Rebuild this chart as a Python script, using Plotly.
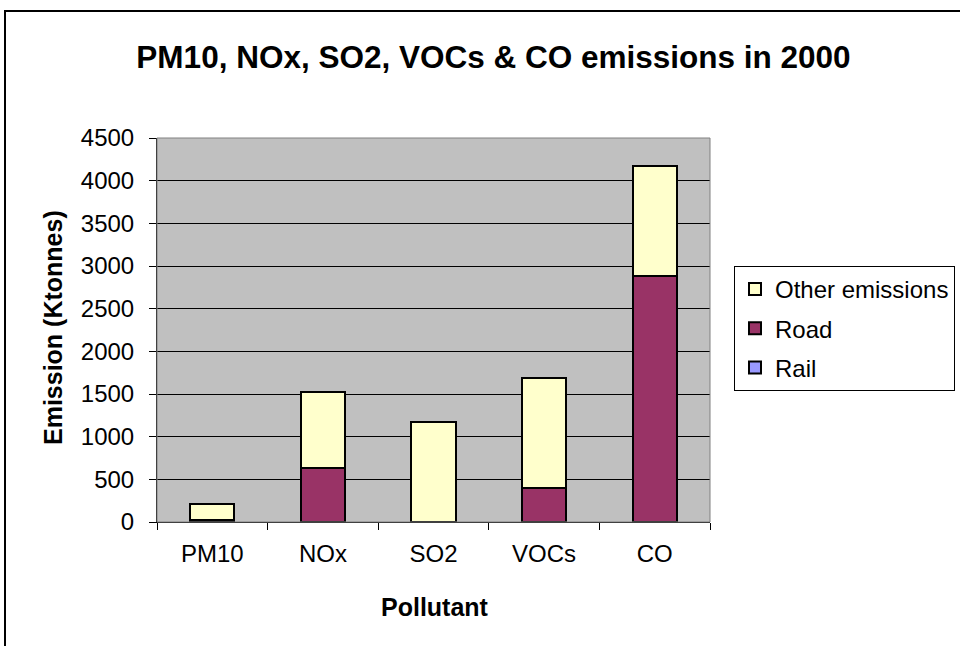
import plotly.graph_objects as go

categories = ["PM10", "NOx", "SO2", "VOCs", "CO"]
rail = [2, 5, 1, 2, 3]
road = [25, 630, 4, 395, 2880]
other = [185, 890, 1168, 1290, 1290]

W, H = 960, 646
L, R, T, B = 157, 250, 138, 124
pw, ph = W - L - R, H - T - B

def px(x):
    return (x - L) / pw

def py(y):
    return (H - B - y) / ph

fig = go.Figure()
fig.add_trace(go.Bar(name="Rail", x=categories, y=rail, marker=dict(color="#9999FF", line=dict(color="black", width=2)),
                     legendgroup="a", legendrank=3))
fig.add_trace(go.Bar(name="Road", x=categories, y=road, marker=dict(color="#993366", line=dict(color="black", width=2)),
                     legendgroup="b", legendrank=2))
fig.add_trace(go.Bar(name="Other emissions", x=categories, y=other, marker=dict(color="#FFFFCC", line=dict(color="black", width=2)),
                     legendgroup="c", legendrank=1))

fig.update_layout(
    width=W, height=H,
    barmode="stack", bargap=0.6,
    margin=dict(l=L, r=R, t=T, b=B, autoexpand=False),
    paper_bgcolor="white", plot_bgcolor="#C0C0C0",
    font=dict(family="Arial, Liberation Sans", color="black", size=24),
    title=dict(text="<b>PM10, NOx, SO2, VOCs & CO emissions in 2000</b>", x=493.5 / W, xref="container", xanchor="center",
               y=1 - 57 / H, yref="container", yanchor="middle", font=dict(size=31.5)),
    legend=dict(x=px(734), y=py(266), xanchor="left", yanchor="top", bordercolor="black", borderwidth=1,
                bgcolor="white", traceorder="grouped", tracegroupgap=5, font=dict(size=24),
                itemwidth=30),
    showlegend=True,
)
fig.update_xaxes(showgrid=False, showline=True, linecolor="black", linewidth=1, ticks="outside", tickson="boundaries",
                 ticklen=7, tickcolor="black", tickfont=dict(size=24), ticklabelstandoff=10)
fig.update_yaxes(range=[0, 4500], dtick=500, showgrid=True, gridcolor="black", gridwidth=1, showline=True,
                 linecolor="black", linewidth=1, ticks="outside", ticklen=7, tickcolor="black", zeroline=False,
                 tickfont=dict(size=24), ticklabelstandoff=10)

# plot area gray border
fig.add_shape(type="rect", xref="paper", yref="paper", x0=0, y0=0, x1=1, y1=1, line=dict(color="#808080", width=1), layer="above")
# chart border
fig.add_shape(type="rect", xref="paper", yref="paper", x0=px(5), y0=py(670), x1=px(975), y1=py(11), line=dict(color="black", width=2))

fig.add_annotation(text="<b>Emission (Ktonnes)</b>", xref="paper", yref="paper", x=px(53), y=py(328), textangle=-90,
                   showarrow=False, font=dict(size=25), xanchor="center", yanchor="middle")
fig.add_annotation(text="<b>Pollutant</b>", xref="paper", yref="paper", x=px(435), y=py(607),
                   showarrow=False, font=dict(size=25), xanchor="center", yanchor="middle")

fig.write_html("out.html", config={"displayModeBar": False},
               post_script="document.body.style.margin='0';document.body.style.overflow='hidden';")
